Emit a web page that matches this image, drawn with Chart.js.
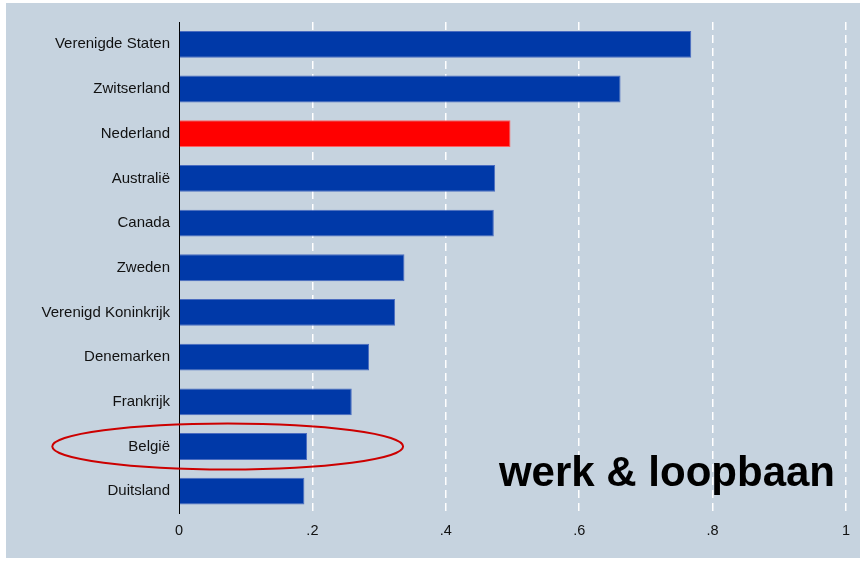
<!DOCTYPE html>
<html>
<head>
<meta charset="utf-8">
<script src="https://cdn.jsdelivr.net/npm/chart.js@4/dist/chart.umd.min.js"></script>
<style>
  html, body { margin: 0; padding: 0; background: #ffffff; }
  #wrap { width: 865px; height: 561px; }
</style>
</head>
<body>
<div id="wrap"><canvas id="chart" width="865" height="561"></canvas></div>
<script>
// data
const landen = ["Verenigde Staten", "Zwitserland", "Nederland", "Australië", "Canada", "Zweden",
  "Verenigd Koninkrijk", "Denemarken", "Frankrijk", "België", "Duitsland"];
const waarden = [0.768, 0.662, 0.497, 0.474, 0.472, 0.338, 0.324, 0.285, 0.259, 0.192, 0.188];
const xTicks = [0, 0.2, 0.4, 0.6, 0.8, 1];
const xTickLabels = ["0", ".2", ".4", ".6", ".8", "1"];
const highlight = "Nederland";
const omcirkeld = "België";
const merk = "werk & loopbaan";

const BLAUW = "#0039a8";
const ROOD = "#ff0000";

// achtergrond, logo-tekst en ellips
const extras = {
  id: "extras",
  beforeDraw(chart) {
    const c = chart.ctx;
    c.save();
    c.fillStyle = "#ffffff";
    c.fillRect(0, 0, chart.width, chart.height);
    c.fillStyle = "#c6d3df";
    c.fillRect(6, 3, 854, 555);
    c.restore();
  },
  afterDraw(chart) {
    const c = chart.ctx;
    const xs = chart.scales.x, ys = chart.scales.y;
    c.save();
    // tekst
    c.font = "bold 42px 'Liberation Sans', Arial, sans-serif";
    c.fillStyle = "#000000";
    c.textAlign = "right";
    c.textBaseline = "alphabetic";
    c.fillText(merk, 835, 486);
    // ellips rond België
    const cy = ys.getPixelForValue(landen.indexOf(omcirkeld));
    const cx = xs.getPixelForValue(0.073);
    const rx = xs.getPixelForValue(0.263) - xs.getPixelForValue(0);
    c.beginPath();
    c.ellipse(cx, cy, rx, 23, 0, 0, Math.PI * 2);
    c.strokeStyle = "#cc0000";
    c.lineWidth = 2;
    c.stroke();
    c.restore();
  }
};

new Chart(document.getElementById("chart"), {
  type: "bar",
  data: {
    labels: landen,
    datasets: [{
      data: waarden,
      backgroundColor: landen.map(l => l === highlight ? ROOD : BLAUW),
      borderColor: landen.map(l => l === highlight ? "#ff6060" : "#4a6cc0"),
      borderWidth: 1,
      borderSkipped: "start",
      categoryPercentage: 1,
      barPercentage: 0.6
    }]
  },
  options: {
    indexAxis: "y",
    responsive: false,
    animation: false,
    layout: { padding: { left: 0, right: 19, top: 22, bottom: 0 } },
    plugins: {
      legend: { display: false },
      tooltip: { enabled: false }
    },
    scales: {
      x: {
        min: 0,
        max: 1,
        afterBuildTicks(axis) {
          axis.ticks = xTicks.map(v => ({ value: v }));
        },
        afterFit(axis) { axis.height = 47.5; },
        border: { display: false, dash: [8, 5] },
        grid: {
          drawTicks: false,
          color: ctx => ctx.tick && ctx.tick.value === 0 ? "rgba(0,0,0,0)" : "#ffffff",
          lineWidth: 1.5
        },
        ticks: {
          padding: 9,
          color: "#111111",
          font: { family: "'Liberation Sans', Arial, sans-serif", size: 14.5 },
          callback: (v, i) => xTickLabels[i]
        }
      },
      y: {
        afterFit(axis) { axis.width = 179; },
        border: { display: true, color: "#000000", width: 1 },
        grid: { display: false, drawTicks: false },
        ticks: {
          padding: 9,
          color: "#111111",
          font: { family: "'Liberation Sans', Arial, sans-serif", size: 15 }
        }
      }
    }
  },
  plugins: [extras]
});
</script>
</body>
</html>
